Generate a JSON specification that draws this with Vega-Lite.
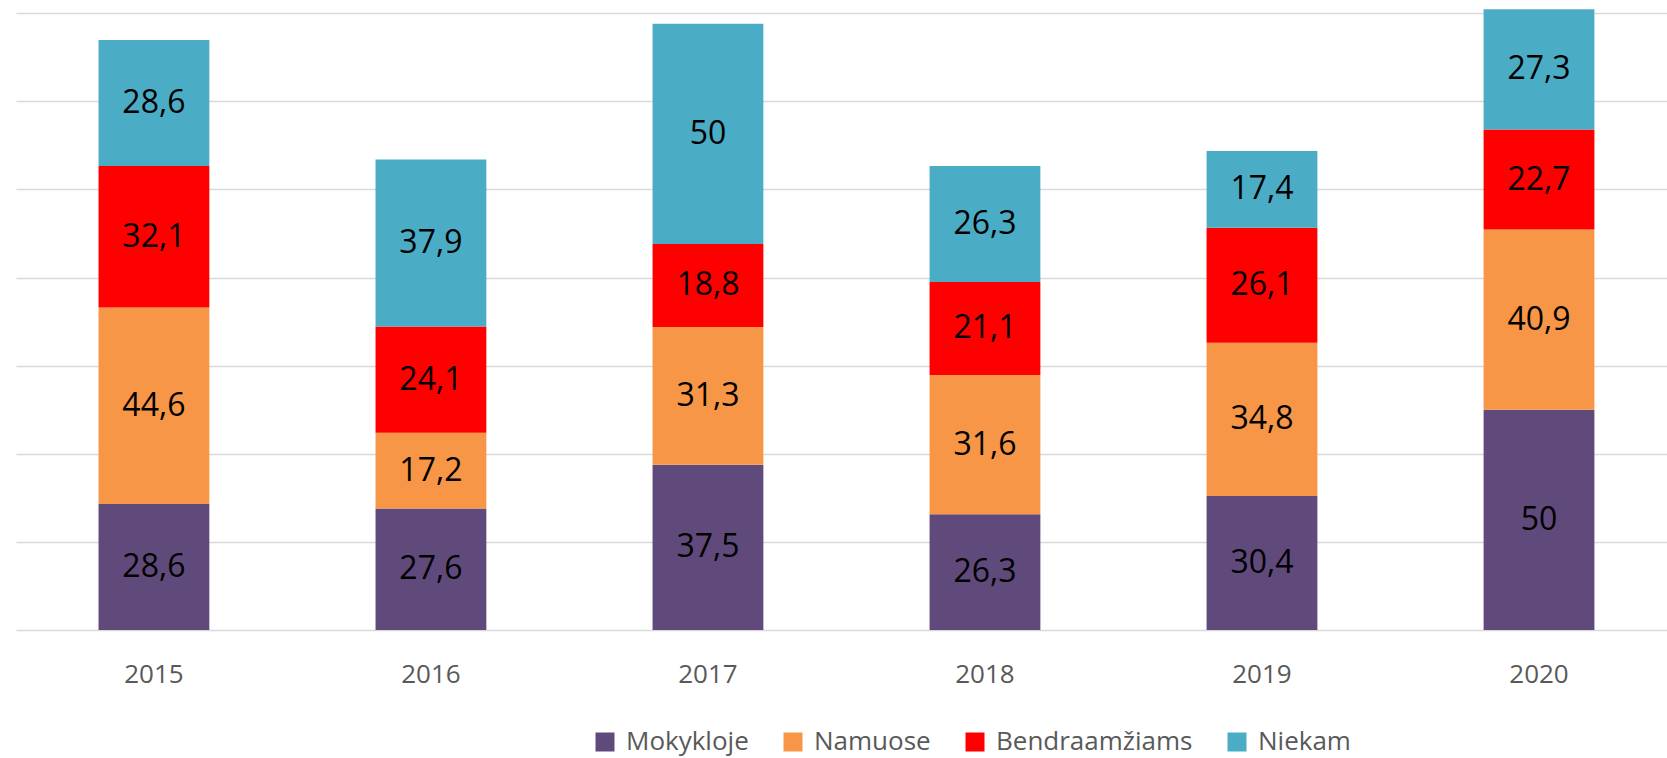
{
  "$schema": "https://vega.github.io/schema/vega-lite/v6.json",
  "width": 1651,
  "height": 630,
  "autosize": {"type": "none"},
  "padding": {"left": 16, "top": 0, "right": 0, "bottom": 128},
  "background": "white",
  "config": {"view": {"stroke": null}, "font": "Open Sans"},
  "data": {"values": [
    {"year": "2015", "s": "Mokykloje", "v": 28.6},
    {"year": "2015", "s": "Namuose", "v": 44.6},
    {"year": "2015", "s": "Bendraamžiams", "v": 32.1},
    {"year": "2015", "s": "Niekam", "v": 28.6},
    {"year": "2016", "s": "Mokykloje", "v": 27.6},
    {"year": "2016", "s": "Namuose", "v": 17.2},
    {"year": "2016", "s": "Bendraamžiams", "v": 24.1},
    {"year": "2016", "s": "Niekam", "v": 37.9},
    {"year": "2017", "s": "Mokykloje", "v": 37.5},
    {"year": "2017", "s": "Namuose", "v": 31.3},
    {"year": "2017", "s": "Bendraamžiams", "v": 18.8},
    {"year": "2017", "s": "Niekam", "v": 50},
    {"year": "2018", "s": "Mokykloje", "v": 26.3},
    {"year": "2018", "s": "Namuose", "v": 31.6},
    {"year": "2018", "s": "Bendraamžiams", "v": 21.1},
    {"year": "2018", "s": "Niekam", "v": 26.3},
    {"year": "2019", "s": "Mokykloje", "v": 30.4},
    {"year": "2019", "s": "Namuose", "v": 34.8},
    {"year": "2019", "s": "Bendraamžiams", "v": 26.1},
    {"year": "2019", "s": "Niekam", "v": 17.4},
    {"year": "2020", "s": "Mokykloje", "v": 50},
    {"year": "2020", "s": "Namuose", "v": 40.9},
    {"year": "2020", "s": "Bendraamžiams", "v": 22.7},
    {"year": "2020", "s": "Niekam", "v": 27.3}
  ]},
  "transform": [
    {"calculate": "datum.s === 'Mokykloje' ? 0 : datum.s === 'Namuose' ? 1 : datum.s === 'Niekam' ? 3 : 2", "as": "k"},
    {"stack": "v", "groupby": ["year"], "sort": [{"field": "k", "order": "ascending"}], "as": ["v0", "v1"]},
    {"calculate": "(datum.v0 + datum.v1) / 2", "as": "mid"},
    {"calculate": "replace('' + datum.v, '.', ',')", "as": "lbl"}
  ],
  "encoding": {
    "x": {
      "field": "year", "type": "nominal", "title": null,
      "scale": {"paddingInner": 0.6, "paddingOuter": 0.28, "align": 0.532},
      "axis": {"domain": false, "ticks": false, "labelAngle": 0, "labelFontSize": 26, "labelColor": "#595959", "labelPadding": 31, "labelFont": "Open Sans"}
    }
  },
  "layer": [
    {
      "mark": {"type": "bar"},
      "encoding": {
        "y": {
          "field": "v0", "type": "quantitative", "title": null,
          "scale": {"domain": [0, 143], "nice": false},
          "axis": {"values": [0, 20, 40, 60, 80, 100, 120, 140], "labels": false, "ticks": false, "domain": false, "grid": true, "gridColor": "#D9D9D9", "gridWidth": 1.4}
        },
        "y2": {"field": "v1"},
        "color": {
          "field": "s", "type": "nominal", "title": null,
          "scale": {"domain": ["Mokykloje", "Namuose", "Bendraamžiams", "Niekam"], "range": ["#604A7B", "#F79646", "#FF0000", "#4BACC6"]},
          "legend": {
            "orient": "none", "direction": "horizontal", "legendX": 576, "legendY": 729,
            "symbolType": "square", "symbolSize": 361, "symbolStrokeWidth": 0,
            "labelFontSize": 26, "labelColor": "#595959", "labelFont": "Open Sans", "labelLimit": 0,
            "labelOffset": 8, "columnPadding": 31
          }
        }
      }
    },
    {
      "mark": {"type": "text", "fontSize": 32, "color": "black", "font": "Open Sans", "baseline": "middle"},
      "encoding": {
        "y": {"field": "mid", "type": "quantitative"},
        "text": {"field": "lbl"}
      }
    }
  ]
}
